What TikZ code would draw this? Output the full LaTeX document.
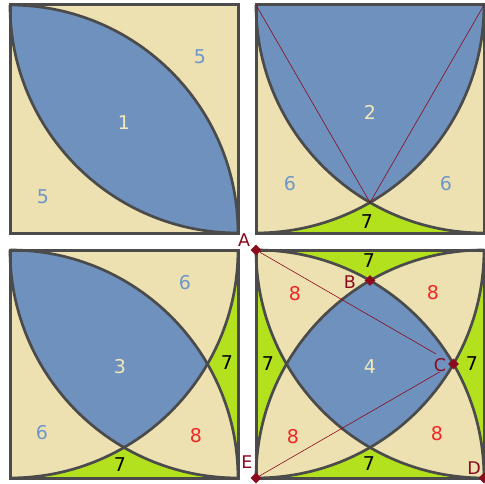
\documentclass[tikz,border=0pt]{standalone}
\usepackage{fontspec}
\setmainfont{DejaVu Sans}
\usetikzlibrary{shapes.geometric}

\definecolor{regblue}{RGB}{110,145,190}
\definecolor{regtan}{RGB}{237,225,178}
\definecolor{reggreen}{RGB}{180,225,30}
\definecolor{edgegray}{RGB}{75,75,75}
\definecolor{numcream}{RGB}{242,232,185}
\definecolor{numblue}{RGB}{110,150,200}
\definecolor{numred}{RGB}{238,40,40}
\definecolor{ptred}{RGB}{139,10,30}

\tikzset{
  arcline/.style={edgegray, line width=2.7pt},
  sqline/.style={edgegray, line width=3pt},
  ptline/.style={ptred, line width=0.6pt},
  ptmark/.style={diamond, fill=ptred, inner sep=0pt, minimum size=11pt},
  ptlabel/.style={text=ptred, font=\fontsize{17.5}{18}\selectfont},
  numlabel/.style={font=\fontsize{19}{19}\selectfont},
}

\def\s{228}

\begin{document}
\begin{tikzpicture}[x=1pt,y=1pt]
				\useasboundingbox (0,0) rectangle (485,483);
				% Square 1
				\begin{scope}[shift={(10,250)}]
					\coordinate (bl) at (0,0);
					\coordinate (tr) at (\s,\s);
					\fill[regtan] (0,0) rectangle (\s,\s);
					\begin{scope}
						\clip (0,0) rectangle (\s,\s);
						\clip (bl) circle (\s);
						\fill[regblue] (tr) circle (\s);
					\end{scope}
					\draw[arcline] (\s,0) arc[start angle=0, end angle=90, radius=\s];
					\draw[arcline] (0,\s) arc[start angle=180, end angle=270, radius=\s];
					\draw[sqline] (0,0) rectangle (\s,\s);
					\node[numlabel, numcream] (n1) at (114,110) {1};
					\node[numlabel, numblue] (n5a) at (190,176) {5};
					\node[numlabel, numblue] (n5b) at (33,36) {5};
				\end{scope}
				% Square 2
				\begin{scope}[shift={(256,250)}]
					\coordinate (tl) at (0,\s);
					\coordinate (tr) at (\s,\s);
					\coordinate (P) at (114,30.55);
					\fill[reggreen] (0,0) rectangle (\s,\s);
					\begin{scope}
						\clip (0,0) rectangle (\s,\s);
						\fill[regtan] (tl) circle (\s);
						\fill[regtan] (tr) circle (\s);
						\clip (tl) circle (\s);
						\fill[regblue] (tr) circle (\s);
					\end{scope}
					\draw[arcline] (\s,\s) arc[start angle=0, end angle=-90, radius=\s];
					\draw[arcline] (0,\s) arc[start angle=180, end angle=270, radius=\s];
					\draw[sqline] (0,0) rectangle (\s,\s);
					\draw[ptline] (tl) -- (P);
					\draw[ptline] (tr) -- (P);
					\fill[black!80] (P) circle (1.5);
					\node[numlabel, numcream] (n2) at (114,121) {2};
					\node[numlabel, numblue] (n6a) at (34,49) {6};
					\node[numlabel, numblue] (n6b) at (190,49) {6};
					\node[numlabel] (n7a) at (111,11) {7};
				\end{scope}
				% Square 3
				\begin{scope}[shift={(10,5)}]
					\coordinate (bl) at (0,0);
					\coordinate (tl) at (0,\s);
					\coordinate (tr) at (\s,\s);
					\fill[reggreen] (0,0) rectangle (\s,\s);
					\foreach \p/\q in {bl/tr, bl/tl, tr/tl}
						{\begin{scope}
							\clip (0,0) rectangle (\s,\s);
							\clip (\p) circle (\s);
							\fill[regtan] (\q) circle (\s);
						\end{scope}}
					\begin{scope}
						\clip (bl) circle (\s);
						\clip (tr) circle (\s);
						\fill[regblue] (tl) circle (\s);
					\end{scope}
					\draw[arcline] (\s,0) arc[start angle=0, end angle=90, radius=\s];
					\draw[arcline] (0,\s) arc[start angle=180, end angle=270, radius=\s];
					\draw[arcline] (\s,\s) arc[start angle=0, end angle=-90, radius=\s];
					\draw[sqline] (0,0) rectangle (\s,\s);
					\node[numlabel, numcream] (n3) at (110,111) {3};
					\node[numlabel, numblue] (n6c) at (175,195) {6};
					\node[numlabel, numblue] (n6d) at (32,45) {6};
					\node[numlabel] (n7b) at (217,115) {7};
					\node[numlabel] (n7c) at (110,13) {7};
					\node[numlabel, numred] (n8a) at (186,42) {8};
				\end{scope}
				% Square 4
				\begin{scope}[shift={(256,5)}]
					\coordinate (bl) at (0,0);
					\coordinate (br) at (\s,0);
					\coordinate (tl) at (0,\s);
					\coordinate (tr) at (\s,\s);
					\fill[reggreen] (0,0) rectangle (\s,\s);
					\foreach \p/\q/\r in {bl/br/tl, bl/br/tr, bl/tl/tr, br/tl/tr}
						{\begin{scope}
							\clip (0,0) rectangle (\s,\s);
							\clip (\p) circle (\s);
							\clip (\q) circle (\s);
							\fill[regtan] (\r) circle (\s);
						\end{scope}}
					\begin{scope}
						\clip (bl) circle (\s);
						\clip (br) circle (\s);
						\clip (tl) circle (\s);
						\fill[regblue] (tr) circle (\s);
					\end{scope}
					\draw[arcline] (\s,0) arc[start angle=0, end angle=90, radius=\s];
					\draw[arcline] (0,\s) arc[start angle=180, end angle=270, radius=\s];
					\draw[arcline] (\s,\s) arc[start angle=0, end angle=-90, radius=\s];
					\draw[arcline] (0,0) arc[start angle=180, end angle=90, radius=\s];
					\draw[sqline] (0,0) rectangle (\s,\s);
					\node[numlabel, numcream] (n4) at (114,111) {4};
					\node[numlabel] (n7d) at (113,217) {7};
					\node[numlabel] (n7e) at (12,114) {7};
					\node[numlabel] (n7f) at (216,114) {7};
					\node[numlabel] (n7g) at (113,14) {7};
					\node[numlabel, numred] (n8b) at (39,184) {8};
					\node[numlabel, numred] (n8c) at (177,185) {8};
					\node[numlabel, numred] (n8d) at (37,41) {8};
					\node[numlabel, numred] (n8e) at (181,44) {8};
					% Points
					\node[ptmark] (A) at (0,\s) {};
					\node[ptmark] (B) at (114,197.45) {};
					\node[ptmark] (C) at (197.45,114) {};
					\node[ptmark] (D) at (\s,0) {};
					\node[ptmark] (E) at (0,0) {};
					\draw[ptline, shorten >=16pt] (A) -- (C);
					\draw[ptline, shorten >=12pt] (E) -- (C);
					\node[ptlabel] (lA) at (-12,238) {A};
					\node[ptlabel] (lB) at (94,196) {B};
					\node[ptlabel] (lC) at (184,113) {C};
					\node[ptlabel] (lD) at (218,10) {D};
					\node[ptlabel] (lE) at (-9,16) {E};
				\end{scope}
\end{tikzpicture}
\end{document}
